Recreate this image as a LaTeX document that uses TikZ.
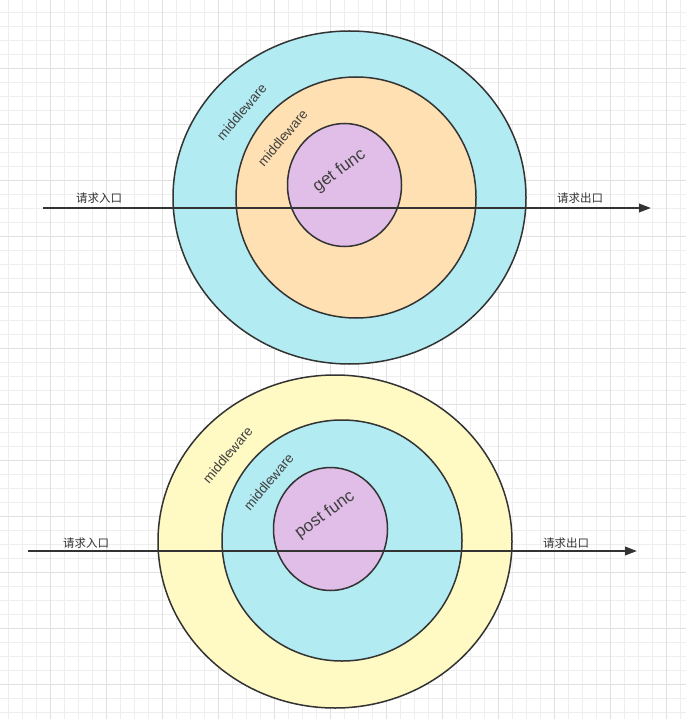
\documentclass[tikz,border=0pt]{standalone}
\usepackage{fontspec}
\setmainfont{Liberation Sans}
\newfontfamily\cjk{Noto Sans CJK SC}
\usetikzlibrary{shapes.geometric,arrows.meta}

\definecolor{ink}{HTML}{333333}
\definecolor{inktext}{HTML}{404040}
\definecolor{ringcyan}{HTML}{B2EBF2}
\definecolor{ringorange}{HTML}{FFE0B2}
\definecolor{ringyellow}{HTML}{FFF9C4}
\definecolor{corepurple}{HTML}{E1BEE7}
\definecolor{gridminor}{HTML}{EEEEEE}
\definecolor{gridmajor}{HTML}{E0E0E0}

\begin{document}
\begin{tikzpicture}[x=1pt,y=-1pt,
  ring/.style={draw=ink,line width=1.5pt,ellipse,inner sep=0pt},
  ringlabel/.style={text=inktext,font=\fontsize{13.5}{13.5}\selectfont,rotate=50},
  corelabel/.style={text=inktext,font=\fontsize{17}{17}\selectfont,rotate=36},
  flow/.style={draw=ink,line width=2pt,-{Triangle[length=12pt,width=8.5pt]}},
  flowlabel/.style={text=ink,font=\cjk\fontsize{11.5}{11.5}\selectfont}]

\useasboundingbox[fill=white] (0,0) rectangle (686,719);

%Grid
\foreach \i in {0,...,48}
  \draw[gridminor,line width=0.8pt] (8.3+14*\i,0) -- (8.3+14*\i,719);
\foreach \i in {0,...,50}
  \draw[gridminor,line width=0.8pt] (0,12.3+14*\i) -- (686,12.3+14*\i);
\foreach \i in {0,...,11}
  \draw[gridmajor,line width=0.8pt] (50.3+56*\i,0) -- (50.3+56*\i,719);
\foreach \i in {0,...,11}
  \draw[gridmajor,line width=0.8pt] (0,68.3+56*\i) -- (686,68.3+56*\i);

%%%%%%%%%%%%%%%%%Get%%%%%%%%%%%%%%
%Outer
\node[ring,fill=ringcyan,minimum width=353pt,minimum height=333pt] (gouter) at (349.5,197.5){};

%Middle
\node[ring,fill=ringorange,minimum width=240pt,minimum height=241pt] (gmiddle) at (356,197.5){};

%Core
\node[ring,fill=corepurple,minimum width=114pt,minimum height=123pt] (gcore) at (344.5,185){};

\node[ringlabel] (gouterlbl) at (241.5,112){middleware};
\node[ringlabel] (gmiddlelbl) at (282.5,138){middleware};
\node[corelabel] (gcorelbl) at (339.5,171){get func};

%Request
\coordinate (gin) at (43,208);
\coordinate (gout) at (651,208);
\draw[flow] (gin) -- (gout);
\node[flowlabel] (ginlbl) at (99,198.5){请求入口};
\node[flowlabel] (goutlbl) at (580,198.5){请求出口};

%%%%%%%%%%%%%%%%%Post%%%%%%%%%%%%%%
%Outer
\node[ring,fill=ringyellow,minimum width=354pt,minimum height=333pt] (pouter) at (335,541.5){};

%Middle
\node[ring,fill=ringcyan,minimum width=240pt,minimum height=241pt] (pmiddle) at (342,540.5){};

%Core
\node[ring,fill=corepurple,minimum width=114pt,minimum height=123pt] (pcore) at (330.5,529){};

\node[ringlabel] (pouterlbl) at (227.5,455){middleware};
\node[ringlabel] (pmiddlelbl) at (268.5,482){middleware};
\node[corelabel] (pcorelbl) at (325,515){post func};

%Request
\coordinate (pin) at (28,551);
\coordinate (pout) at (637,551);
\draw[flow] (pin) -- (pout);
\node[flowlabel] (pinlbl) at (86,543){请求入口};
\node[flowlabel] (poutlbl) at (566,543){请求出口};

\end{tikzpicture}
\end{document}
